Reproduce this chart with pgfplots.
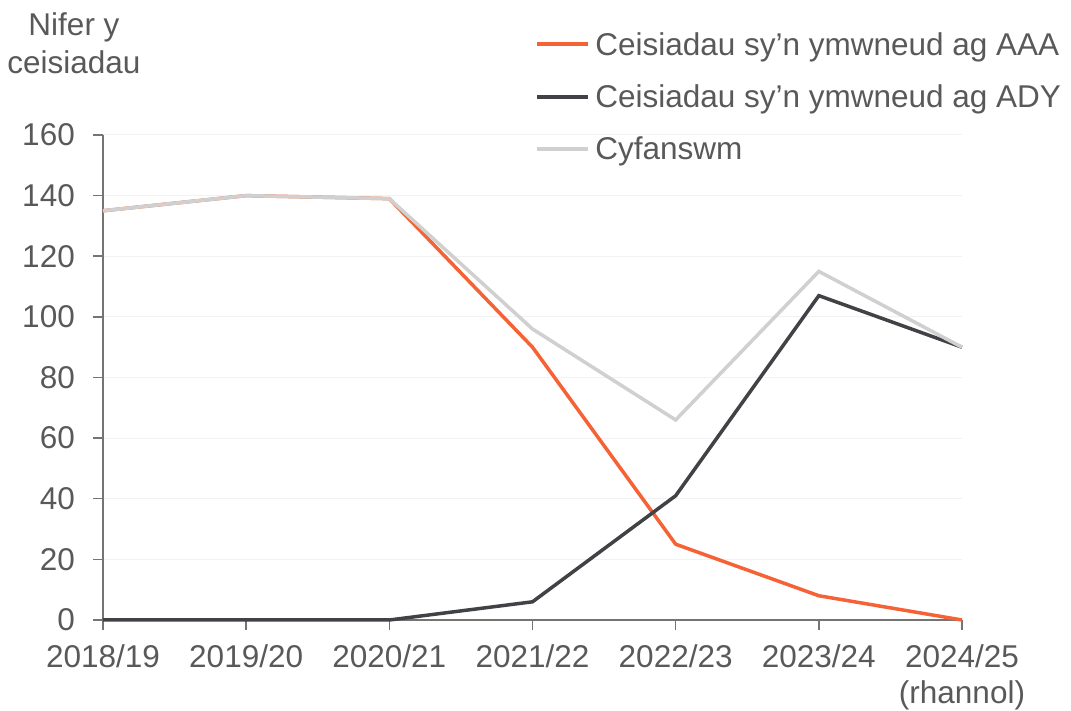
\documentclass[border=0pt]{standalone}
\usepackage{fontspec}
\setmainfont{Liberation Sans}
\usepackage{pgfplots}
\pgfplotsset{compat=1.18}
\definecolor{aaa}{RGB}{245,98,53}
\definecolor{ady}{RGB}{64,66,70}
\definecolor{tot}{RGB}{208,208,208}
\definecolor{textgray}{RGB}{89,89,89}
\definecolor{axisgray}{RGB}{118,115,115}
\definecolor{gridgray}{RGB}{242,242,242}
\begin{document}
\begin{tikzpicture}
\useasboundingbox (-103pt,-91pt) rectangle (968pt,620pt);
\begin{axis}[
  at={(0pt,0pt)}, anchor=south west,
  scale only axis, width=859pt, height=485pt,
  xmin=0, xmax=6, ymin=0, ymax=160,
  clip=false,
  axis x line*=bottom, axis y line*=left,
  axis line style={draw=axisgray, line width=1.5pt, -},
  xtick={0,1,2,3,4,5,6},
  xticklabels={2018/19,2019/20,2020/21,2021/22,2022/23,2023/24,{2024/25\\(rhannol)}},
  ytick={0,20,...,160},
  ymajorgrids, grid style={draw=gridgray, line width=1pt},
  tick align=outside, major tick length=10pt,
  tick style={draw=axisgray, line width=1.5pt},
  /pgf/number format/assume math mode=true,
  ticklabel style={font=\fontsize{31.5}{36}\selectfont, text=textgray},
  yticklabel style={inner sep=0pt, xshift=-18pt},
  xticklabel style={inner sep=0pt, yshift=-14pt, align=center},
  legend style={at={(rel axis cs:0.503,1.2124)}, anchor=north west, draw=none, fill=none,
    font=\fontsize{31.5}{36}\selectfont, text=textgray, row sep=28pt, column sep=5pt,
    inner sep=0pt, nodes={inner sep=0pt}},
  legend cell align=left,
  legend image code/.code={\draw[#1, line width=4pt] (0pt,0pt) -- (51pt,0pt);},
]
\addplot[aaa, line width=3.5pt] coordinates {(0,135) (1,140) (2,139) (3,90) (4,25) (5,8) (6,0)};
\addlegendentry{Ceisiadau sy’n ymwneud ag AAA}
\addplot[ady, line width=3.5pt] coordinates {(0,0) (1,0) (2,0) (3,6) (4,41) (5,107) (6,90)};
\addlegendentry{Ceisiadau sy’n ymwneud ag ADY}
\addplot[tot, line width=3.5pt] coordinates {(0,135) (1,140) (2,139) (3,96) (4,66) (5,115) (6,90)};
\addlegendentry{Cyfanswm}
\end{axis}
\node[align=center, font=\fontsize{31.5}{38}\selectfont, text=textgray, anchor=north, inner sep=0pt] at (-29pt,608pt) {Nifer y\\ceisiadau};
\end{tikzpicture}
\end{document}
